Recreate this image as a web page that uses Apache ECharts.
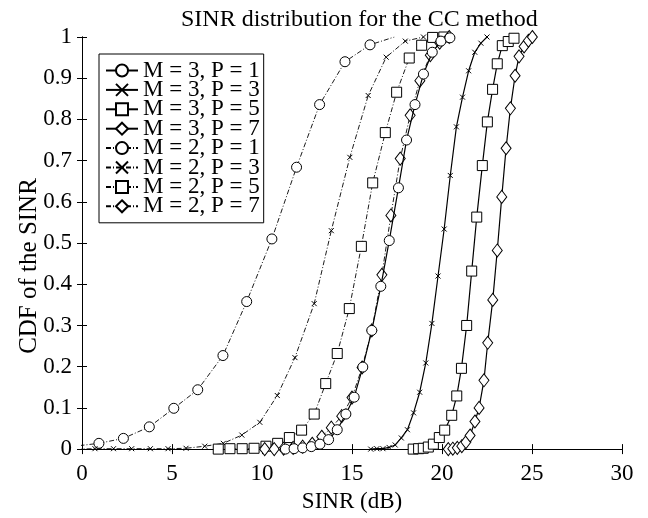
<!DOCTYPE html>
<html>
<head>
<meta charset="utf-8">
<script src="https://cdn.jsdelivr.net/npm/echarts@6/dist/echarts.min.js"></script>
<style>
html,body{margin:0;padding:0;background:#fff;}
#c{width:648px;height:518px;}
</style>
</head>
<body>
<div id="c"></div>
<script>
// ---- data ----
const seriesNames = ['M = 3, P = 1','M = 3, P = 3','M = 3, P = 5','M = 3, P = 7','M = 2, P = 1','M = 2, P = 3','M = 2, P = 5','M = 2, P = 7'];

const m3p1X = [11.3, 11.78, 12.26, 12.74, 13.22, 13.7, 14.18, 14.66, 15.12, 15.6, 16.1, 16.6, 17.07, 17.58, 18.03, 18.5, 18.97, 19.46, 19.94, 20.44];
const m3p1Y = [0, 0.001, 0.003, 0.006, 0.012, 0.023, 0.047, 0.085, 0.126, 0.199, 0.288, 0.395, 0.506, 0.634, 0.75, 0.836, 0.91, 0.963, 0.99, 0.998];

const m3p3X = [16.04, 16.38, 16.72, 17.06, 17.4, 17.74, 18.08, 18.42, 18.76, 19.1, 19.44, 19.78, 20.12, 20.46, 20.8, 21.14, 21.48, 21.82, 22.16, 22.5];
const m3p3Y = [0, 0.001, 0.001, 0.004, 0.01, 0.027, 0.047, 0.088, 0.138, 0.209, 0.305, 0.42, 0.534, 0.664, 0.782, 0.854, 0.918, 0.963, 0.985, 1.0];

const m3p5X = [18.4, 18.7, 18.96, 19.24, 19.52, 19.85, 20.15, 20.54, 20.82, 21.08, 21.37, 21.65, 21.93, 22.24, 22.52, 22.81, 23.07, 23.35, 23.68, 24.0];
const m3p5Y = [0, 0.001, 0.002, 0.005, 0.012, 0.028, 0.046, 0.082, 0.129, 0.196, 0.3, 0.432, 0.563, 0.688, 0.794, 0.873, 0.935, 0.979, 0.989, 0.997];

const m3p7X = [20.35, 20.6, 20.85, 21.1, 21.33, 21.56, 21.83, 22.06, 22.33, 22.54, 22.82, 23.07, 23.32, 23.56, 23.8, 24.06, 24.28, 24.56, 24.8, 25.02];
const m3p7Y = [0, 0.001, 0.003, 0.007, 0.017, 0.033, 0.067, 0.1, 0.167, 0.258, 0.362, 0.482, 0.612, 0.73, 0.827, 0.906, 0.953, 0.977, 0.991, 1.0];

const m2p1X = [-1.8, -0.43, 0.94, 2.3, 3.74, 5.1, 6.43, 7.83, 9.15, 10.55, 11.92, 13.2, 14.61, 16.0, 17.35];
const m2p1Y = [0.003, 0.007, 0.014, 0.026, 0.054, 0.099, 0.144, 0.227, 0.358, 0.51, 0.684, 0.836, 0.94, 0.981, 1.0];

const m2p3X = [-0.3, 0.72, 1.75, 2.76, 3.8, 4.78, 5.78, 6.82, 7.85, 8.88, 9.88, 10.85, 11.83, 12.9, 13.85, 14.88, 15.9, 16.9, 17.96, 18.97];
const m2p3Y = [0, 0.001, 0.001, 0.001, 0.001, 0.001, 0.002, 0.007, 0.014, 0.034, 0.065, 0.13, 0.222, 0.353, 0.53, 0.708, 0.858, 0.951, 0.99, 1.0];

const m2p5X = [7.57, 8.22, 8.9, 9.56, 10.22, 10.87, 11.52, 12.2, 12.9, 13.54, 14.18, 14.85, 15.52, 16.15, 16.85, 17.48, 18.18, 18.87, 19.48, 20.1];
const m2p5Y = [0, 0.001, 0.001, 0.002, 0.007, 0.014, 0.028, 0.046, 0.085, 0.159, 0.232, 0.341, 0.492, 0.646, 0.768, 0.866, 0.949, 0.98, 0.999, 1.0];

const m2p7X = [10.15, 10.68, 11.2, 11.73, 12.26, 12.79, 13.32, 13.85, 14.43, 15.0, 15.56, 16.1, 16.66, 17.16, 17.68, 18.23, 18.77, 19.35, 19.87, 20.4];
const m2p7Y = [0, 0, 0.001, 0.003, 0.006, 0.013, 0.03, 0.052, 0.08, 0.125, 0.198, 0.288, 0.423, 0.567, 0.705, 0.81, 0.894, 0.956, 0.986, 1.0];

const xTicks = [0, 5, 10, 15, 20, 25, 30];
const yTicks = [0, 0.1, 0.2, 0.3, 0.4, 0.5, 0.6, 0.7, 0.8, 0.9, 1];

// ---- chart ----
const FONT = 'Liberation Serif';
const crossPath = 'path://M0,0L10,10M10,0L0,10';
const zip = (xs, ys) => xs.map((x, i) => [x, ys[i]]);
const dashDot = [5, 2, 1, 2];

function mk(name, xs, ys, symbol, size, dashed) {
  const isCross = symbol === crossPath;
  return {
    name: name,
    type: 'line',
    data: zip(xs, ys),
    symbol: symbol,
    symbolSize: size,
    showSymbol: true,
    clip: true,
    lineStyle: { color: '#000', width: dashed ? 0.9 : 1.2, type: dashed ? dashDot : 'solid' },
    itemStyle: { color: isCross ? '#000' : '#fff', borderColor: '#000', borderWidth: 1 },
    emphasis: { disabled: true },
    z: dashed ? 2 : 3
  };
}

const series = [
  mk(seriesNames[0], m3p1X, m3p1Y, 'circle', 10, false),
  mk(seriesNames[1], m3p3X, m3p3Y, crossPath, 5, false),
  mk(seriesNames[2], m3p5X, m3p5Y, 'rect', 10, false),
  mk(seriesNames[3], m3p7X, m3p7Y, 'diamond', [10, 13], false),
  mk(seriesNames[4], m2p1X, m2p1Y, 'circle', 10, true),
  mk(seriesNames[5], m2p3X, m2p3Y, crossPath, 5, true),
  mk(seriesNames[6], m2p5X, m2p5Y, 'rect', 10, true),
  mk(seriesNames[7], m2p7X, m2p7Y, 'diamond', [10, 13], true)
];
// hide symbols of off-chart / hidden end points of M=2,P=1
series[4].data = series[4].data.map((d, i) => (i < 2 || i === m2p1X.length - 1) ? { value: d, symbol: 'none' } : d);

const axisCommon = {
  axisLine: { lineStyle: { color: '#000', width: 1 } },
  axisTick: { inside: true, length: 5, lineStyle: { color: '#000' } },
  splitLine: { show: false },
  axisLabel: { color: '#000', fontFamily: FONT, fontSize: 23 }
};

const chart = echarts.init(document.getElementById('c'), null, { renderer: 'canvas' });
chart.setOption({
  animation: false,
  backgroundColor: '#fff',
  title: {
    text: 'SINR distribution for the CC method',
    left: 181, top: 8, padding: 0,
    textStyle: { fontFamily: FONT, fontSize: 24, fontWeight: 'normal', color: '#000' }
  },
  grid: { left: 82, right: 26, top: 37, bottom: 58, containLabel: false },
  legend: {
    data: seriesNames,
    orient: 'vertical',
    left: 99, top: 54,
    padding: [5, 4, 5, 6],
    itemGap: -3.6,
    itemWidth: 32,
    itemHeight: 15,
    backgroundColor: '#fff',
    borderColor: '#000',
    borderWidth: 1,
    borderRadius: 0,
    textStyle: { fontFamily: FONT, fontSize: 23, color: '#000' },
    selectedMode: false
  },
  graphic: [{
    type: 'text',
    x: 29, y: 266,
    rotation: Math.PI / 2,
    style: {
      text: 'CDF of the SINR',
      font: '25px "Liberation Serif"',
      fill: '#000',
      textAlign: 'center',
      textVerticalAlign: 'middle'
    }
  }],
  xAxis: [
    Object.assign({}, axisCommon, {
      type: 'value', min: 0, max: 30, interval: 5, position: 'bottom',
      name: 'SINR (dB)', nameLocation: 'middle', nameGap: 37,
      nameTextStyle: { fontFamily: FONT, fontSize: 23, color: '#000' },
      axisLabel: Object.assign({}, axisCommon.axisLabel, { margin: 13, formatter: v => xTicks.includes(v) ? String(v) : '' })
    }),
    Object.assign({}, axisCommon, {
      type: 'value', min: 0, max: 30, interval: 5, position: 'top',
      axisLabel: { show: false }
    })
  ],
  yAxis: [
    Object.assign({}, axisCommon, {
      type: 'value', min: 0, max: 1, interval: 0.1, position: 'left',
      axisLabel: Object.assign({}, axisCommon.axisLabel, { margin: 10, formatter: v => {
        const t = yTicks.find(k => Math.abs(k - v) < 1e-9);
        return t === undefined ? '' : String(t);
      } })
    }),
    Object.assign({}, axisCommon, {
      type: 'value', min: 0, max: 1, interval: 0.1, position: 'right',
      axisLabel: { show: false }
    })
  ],
  series: series
});
</script>
</body>
</html>
